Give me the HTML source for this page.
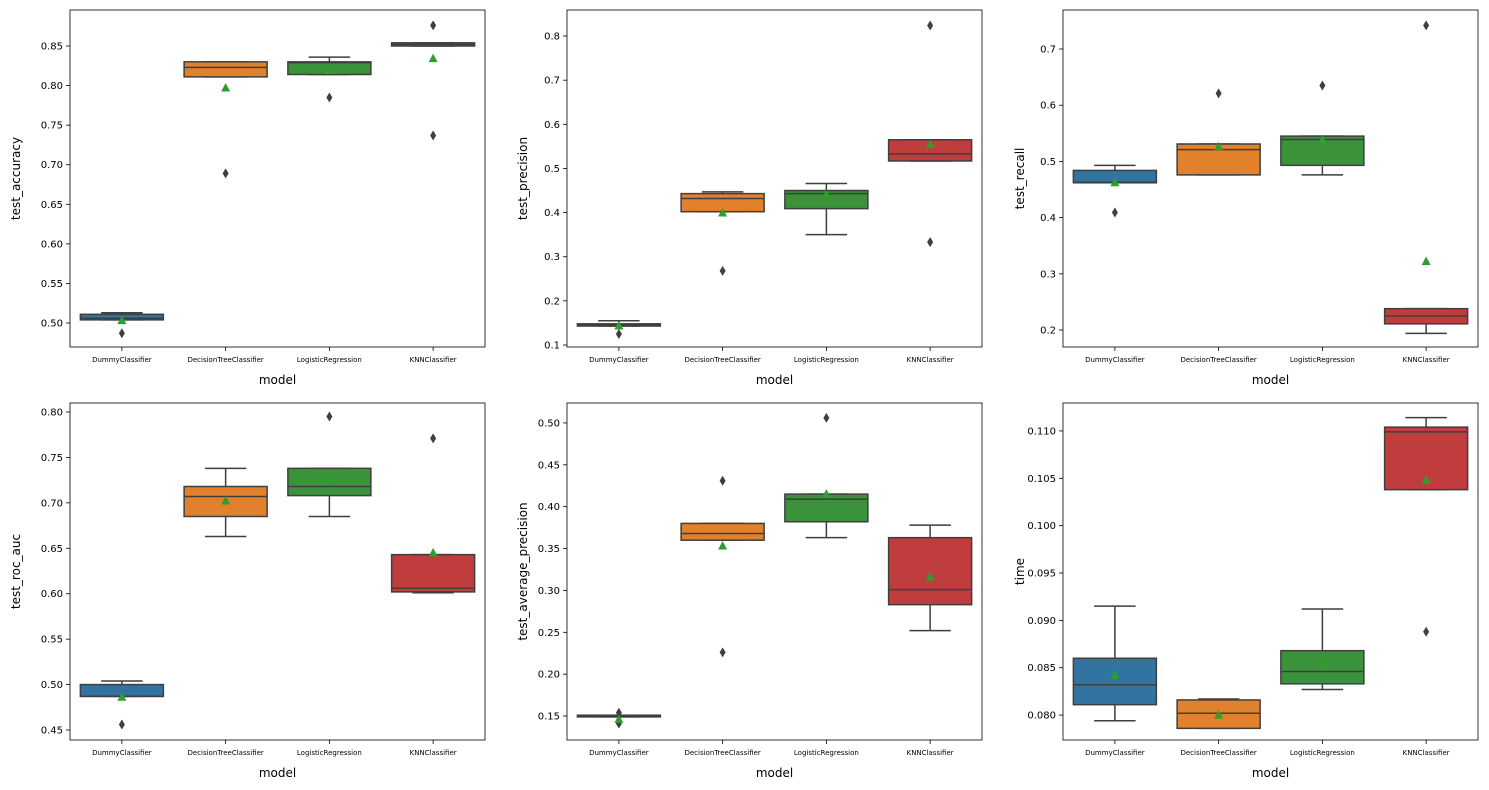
<!DOCTYPE html>
<html><head><meta charset="utf-8"><style>
html,body{margin:0;padding:0;background:#fff;width:1489px;height:790px;overflow:hidden}
svg{font-family:"DejaVu Sans","Liberation Sans",sans-serif}
</style></head><body>
<svg id="fig" width="1489" height="790" viewBox="0 0 1489 790" xmlns="http://www.w3.org/2000/svg"></svg>
<script>
// categories
const categories = ["DummyClassifier","DecisionTreeClassifier","LogisticRegression","KNNClassifier"];
const metrics = ["test_accuracy","test_precision","test_recall","test_roc_auc","test_average_precision","time"];
// per metric: [whislo, q1, median, q3, whishi] per category
const accuracyStats = [[0.504,0.504,0.506,0.511,0.513],[0.811,0.811,0.823,0.830,0.830],[0.814,0.814,0.829,0.830,0.836],[0.850,0.850,0.852,0.854,0.854]];
const precisionStats = [[0.143,0.143,0.146,0.148,0.155],[0.402,0.402,0.432,0.443,0.447],[0.350,0.409,0.443,0.450,0.466],[0.517,0.517,0.533,0.565,0.565]];
const recallStats = [[0.462,0.462,0.463,0.484,0.493],[0.476,0.476,0.521,0.531,0.531],[0.476,0.493,0.539,0.545,0.545],[0.194,0.211,0.225,0.238,0.238]];
const rocStats = [[0.487,0.487,0.487,0.500,0.504],[0.663,0.685,0.707,0.718,0.738],[0.685,0.708,0.718,0.738,0.738],[0.601,0.602,0.606,0.643,0.643]];
const apStats = [[0.149,0.149,0.150,0.151,0.151],[0.360,0.360,0.368,0.380,0.380],[0.363,0.382,0.409,0.415,0.415],[0.252,0.283,0.301,0.363,0.378]];
const timeStats = [[0.0794,0.0811,0.0832,0.0860,0.0915],[0.0786,0.0786,0.0802,0.0816,0.0817],[0.0827,0.0833,0.0846,0.0868,0.0912],[0.1038,0.1038,0.1099,0.1104,0.1114]];
// outliers
const accuracyFliers = [[0.487],[0.689],[0.785],[0.876,0.737]];
const precisionFliers = [[0.125],[0.268],[],[0.824,0.333]];
const recallFliers = [[0.409],[0.621],[0.635],[0.742]];
const rocFliers = [[0.456],[],[0.795],[0.771]];
const apFliers = [[0.154,0.141],[0.431,0.226],[0.506],[]];
const timeFliers = [[],[],[],[0.0888]];
// means
const accuracyMeans = [0.503,0.797,0.819,0.834];
const precisionMeans = [0.143,0.399,0.440,0.554];
const recallMeans = [0.462,0.526,0.538,0.322];
const rocMeans = [0.486,0.702,0.728,0.645];
const apMeans = [0.146,0.353,0.415,0.316];
const timeMeans = [0.0842,0.0800,0.0856,0.1048];
// y axis
const accuracyTicks = [0.50,0.55,0.60,0.65,0.70,0.75,0.80,0.85];
const precisionTicks = [0.1,0.2,0.3,0.4,0.5,0.6,0.7,0.8];
const recallTicks = [0.2,0.3,0.4,0.5,0.6,0.7];
const rocTicks = [0.45,0.50,0.55,0.60,0.65,0.70,0.75,0.80];
const apTicks = [0.15,0.20,0.25,0.30,0.35,0.40,0.45,0.50];
const timeTicks = [0.080,0.085,0.090,0.095,0.100,0.105,0.110];

const NS="http://www.w3.org/2000/svg";
const svg=document.getElementById('fig');
const colors=["#3274a1","#e1812c","#3a923a","#c03d3e"];
const dark="#3f3f3f";
function mk(tag,attrs,parent){const e=document.createElementNS(NS,tag);for(const k in attrs)e.setAttribute(k,attrs[k]);(parent||svg).appendChild(e);return e;}

const panels=[
 {x:70,y:10,stats:accuracyStats,fl:accuracyFliers,mn:accuracyMeans,ticks:accuracyTicks,dec:2,ymin:0.4697,ymax:0.8955,lx:16},
 {x:567,y:10,stats:precisionStats,fl:precisionFliers,mn:precisionMeans,ticks:precisionTicks,dec:1,ymin:0.0955,ymax:0.859,lx:523},
 {x:1063,y:10,stats:recallStats,fl:recallFliers,mn:recallMeans,ticks:recallTicks,dec:1,ymin:0.1698,ymax:0.7694,lx:1020},
 {x:70,y:403,stats:rocStats,fl:rocFliers,mn:rocMeans,ticks:rocTicks,dec:2,ymin:0.439,ymax:0.8099,lx:16},
 {x:567,y:403,stats:apStats,fl:apFliers,mn:apMeans,ticks:apTicks,dec:2,ymin:0.1214,ymax:0.5238,lx:523},
 {x:1063,y:403,stats:timeStats,fl:timeFliers,mn:timeMeans,ticks:timeTicks,dec:3,ymin:0.07737,ymax:0.11295,lx:1020}
];
const W=415,H=337;
panels.forEach((p,pi)=>{
 const g=mk('g',{});
 
 
 const Y=v=>p.y+H-(v-p.ymin)/(p.ymax-p.ymin)*H;
 const X=i=>p.x+W/8+i*W/4;
 const bw=W/4*0.8;
 p.ticks.forEach(t=>{
  const yy=Y(t);
  const tl=mk('line',{x1:p.x-4,x2:p.x,y1:yy,y2:yy,stroke:"#000","stroke-width":0.8},g);
  
  
  const tx=mk('text',{x:p.x-7,y:yy+3.5,"font-size":"10px","text-anchor":"end",fill:"#000"},g);
  tx.textContent=t.toFixed(p.dec);
  
  
 });
 categories.forEach((c,i)=>{
  const xx=X(i);
  mk('line',{x1:xx,x2:xx,y1:p.y+H,y2:p.y+H+4,stroke:"#000","stroke-width":0.8},g);
  const tx=mk('text',{x:xx,y:p.y+H+15,"font-size":"7px","text-anchor":"middle",fill:"#000"},g);
  tx.textContent=c;
  
  
  const s=p.stats[i];
  const bg=mk('g',{},g);
  
  
  mk('line',{x1:xx,x2:xx,y1:Y(s[3]),y2:Y(s[4]),stroke:dark,"stroke-width":1.5},bg);
  mk('line',{x1:xx,x2:xx,y1:Y(s[0]),y2:Y(s[1]),stroke:dark,"stroke-width":1.5},bg);
  mk('line',{x1:xx-bw/4,x2:xx+bw/4,y1:Y(s[4]),y2:Y(s[4]),stroke:dark,"stroke-width":1.5},bg);
  mk('line',{x1:xx-bw/4,x2:xx+bw/4,y1:Y(s[0]),y2:Y(s[0]),stroke:dark,"stroke-width":1.5},bg);
  mk('rect',{x:xx-bw/2,y:Y(s[3]),width:bw,height:Math.max(1,Y(s[1])-Y(s[3])),fill:colors[i],stroke:dark,"stroke-width":1.5},bg);
  mk('line',{x1:xx-bw/2,x2:xx+bw/2,y1:Y(s[2]),y2:Y(s[2]),stroke:dark,"stroke-width":1.5},bg);
  p.fl[i].forEach(f=>{
   const yy=Y(f);
   const d=mk('path',{d:`M${xx} ${yy-5}L${xx+3} ${yy}L${xx} ${yy+5}L${xx-3} ${yy}Z`,fill:dark},bg);
   
   
  });
  const my=Y(p.mn[i]);
  const m=mk('path',{d:`M${xx} ${my-5}L${xx+4.5} ${my+3.5}L${xx-4.5} ${my+3.5}Z`,fill:"#2ca02c"},bg);
  
  
 });
 const fr=mk('rect',{x:p.x,y:p.y,width:W,height:H,fill:"none",stroke:"#000","stroke-width":0.8},g);
 
 
 const xl=mk('text',{x:p.x+W/2,y:p.y+H+37,"font-size":"12px","text-anchor":"middle",fill:"#000"},g);
 xl.textContent="model";
 
 
 const cy=p.y+H/2;
 const yl=mk('text',{x:p.lx,y:cy,"font-size":"12px","text-anchor":"middle",fill:"#000",transform:`rotate(-90 ${p.lx} ${cy})`,dy:"4"},g);
 yl.textContent=metrics[pi];
 
 
});
</script>
</body></html>
